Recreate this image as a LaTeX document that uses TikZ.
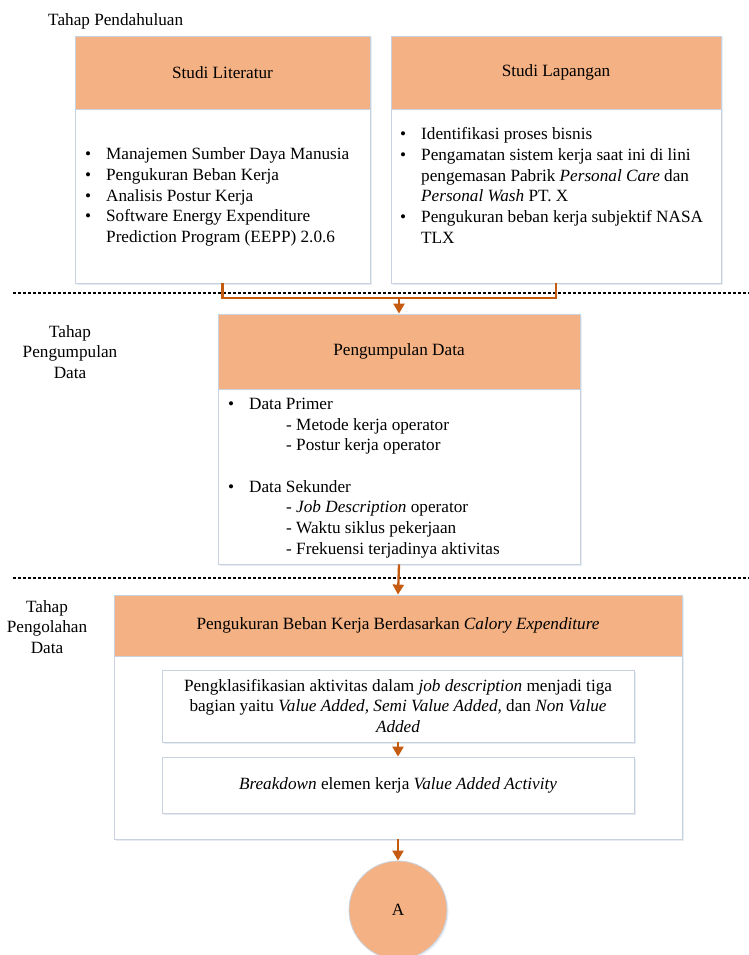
\documentclass[tikz,border=0pt]{standalone}
\usepackage{fontspec}
\setmainfont{Liberation Serif}
\usetikzlibrary{arrows.meta,shadows}
\definecolor{hdr}{RGB}{244,177,131}
\definecolor{arrowc}{RGB}{197,90,17}
\definecolor{bord}{RGB}{200,210,222}
\definecolor{shad}{RGB}{185,200,220}
\begin{document}
\begin{tikzpicture}[x=1pt,y=-1pt,
  every node/.style={font=\fontsize{17.2}{20.7}\selectfont, inner sep=0pt},
  boxbase/.style={draw=bord, line width=0.8pt,
    drop shadow={shadow xshift=1.5pt, shadow yshift=-1.5pt, opacity=0.35, fill=shad}},
  hdrbox/.style={boxbase, fill=hdr},
  bodybox/.style={boxbase, fill=white},
  conn/.style={draw=arrowc, line width=2.3pt},
  arr/.style={conn, -{Triangle[width=11pt,length=10pt]}},
  sep/.style={draw=black, line width=1.8pt, dash pattern=on 3pt off 2pt},
  txt/.style={align=left, anchor=west},
  lbl/.style={align=center}]
\useasboundingbox (0,0) rectangle (749,955);

% stage labels
\node[anchor=west] (s1) at (48,21) {Tahap Pendahuluan};
\node[lbl] (s2) at (70,352) {Tahap\\Pengumpulan\\Data};
\node[lbl] (s3) at (47,627) {Tahap\\Pengolahan\\Data};

% separators
\draw[sep] (13,293) -- (749,293);
\draw[sep] (13,578) -- (749,578);

% Studi Literatur
\node[hdrbox, minimum width=295pt, minimum height=73pt] (litH) at (222.5,72.5) {Studi Literatur};
\node[bodybox, minimum width=295pt, minimum height=174pt] (litB) at (222.5,196) {};
\node[txt] (litT) at (85,197) {\makebox[21pt][l]{•}Manajemen Sumber Daya Manusia\\
\makebox[21pt][l]{•}Pengukuran Beban Kerja\\
\makebox[21pt][l]{•}Analisis Postur Kerja\\
\makebox[21pt][l]{•}Software Energy Expenditure\\
\hspace*{21pt}Prediction Program (EEPP) 2.0.6};

% Studi Lapangan
\node[hdrbox, minimum width=330pt, minimum height=73pt] (lapH) at (556,72.5) {Studi Lapangan};
\node[bodybox, minimum width=330pt, minimum height=174pt] (lapB) at (556,196) {};
\node[txt] (lapT) at (400,185.5) {\makebox[21pt][l]{•}Identifikasi proses bisnis\\
\makebox[21pt][l]{•}Pengamatan sistem kerja saat ini di lini\\
\hspace*{21pt}pengemasan Pabrik \textit{Personal Care} dan\\
\hspace*{21pt}\textit{Personal Wash} PT. X\\
\makebox[21pt][l]{•}Pengukuran beban kerja subjektif NASA\\
\hspace*{21pt}TLX};

% Pengumpulan Data
\node[hdrbox, minimum width=362pt, minimum height=75pt] (pdH) at (399,351.5) {Pengumpulan Data};
\node[bodybox, minimum width=362pt, minimum height=175pt] (pdB) at (399,476.5) {};
\node[txt] (pdT) at (228,478) {\makebox[21pt][l]{•}Data Primer\\
\hspace*{58pt}- Metode kerja operator\\
\hspace*{58pt}- Postur kerja operator\\[20.7pt]
\makebox[21pt][l]{•}Data Sekunder\\
\hspace*{58pt}- \textit{Job Description} operator\\
\hspace*{58pt}- Waktu siklus pekerjaan\\
\hspace*{58pt}- Frekuensi terjadinya aktivitas};

% Pengukuran
\node[hdrbox, minimum width=568pt, minimum height=61pt] (pkH) at (398,625.5) {Pengukuran Beban Kerja Berdasarkan \textit{Calory Expenditure}};
\node[bodybox, minimum width=568pt, minimum height=183pt] (pkB) at (398,747.5) {};
\node[bodybox, minimum width=472pt, minimum height=72pt, align=center] (in1) at (398,706) {Pengklasifikasian aktivitas dalam \textit{job description} menjadi tiga\\
bagian yaitu \textit{Value Added, Semi Value Added,} dan \textit{Non Value}\\
\textit{Added}};
\node[bodybox, minimum width=472pt, minimum height=56pt] (in2) at (398,785) {\textit{Breakdown} elemen kerja \textit{Value Added Activity}};

% connector A
\node[circle, boxbase, fill=hdr, minimum size=98pt] (ca) at (398,910) {A};

% connectors
\coordinate (j) at (399,298);
\draw[conn] (litB.south) |- (j) -| (lapB.south);
\draw[arr] (j) -- (pdH.north);
\draw[arr] (pdB.south) -- (pkH.north);
\draw[arr] (in1.south) -- (in2.north);
\draw[arr] (pkB.south) -- (ca.north);
\end{tikzpicture}
\end{document}
